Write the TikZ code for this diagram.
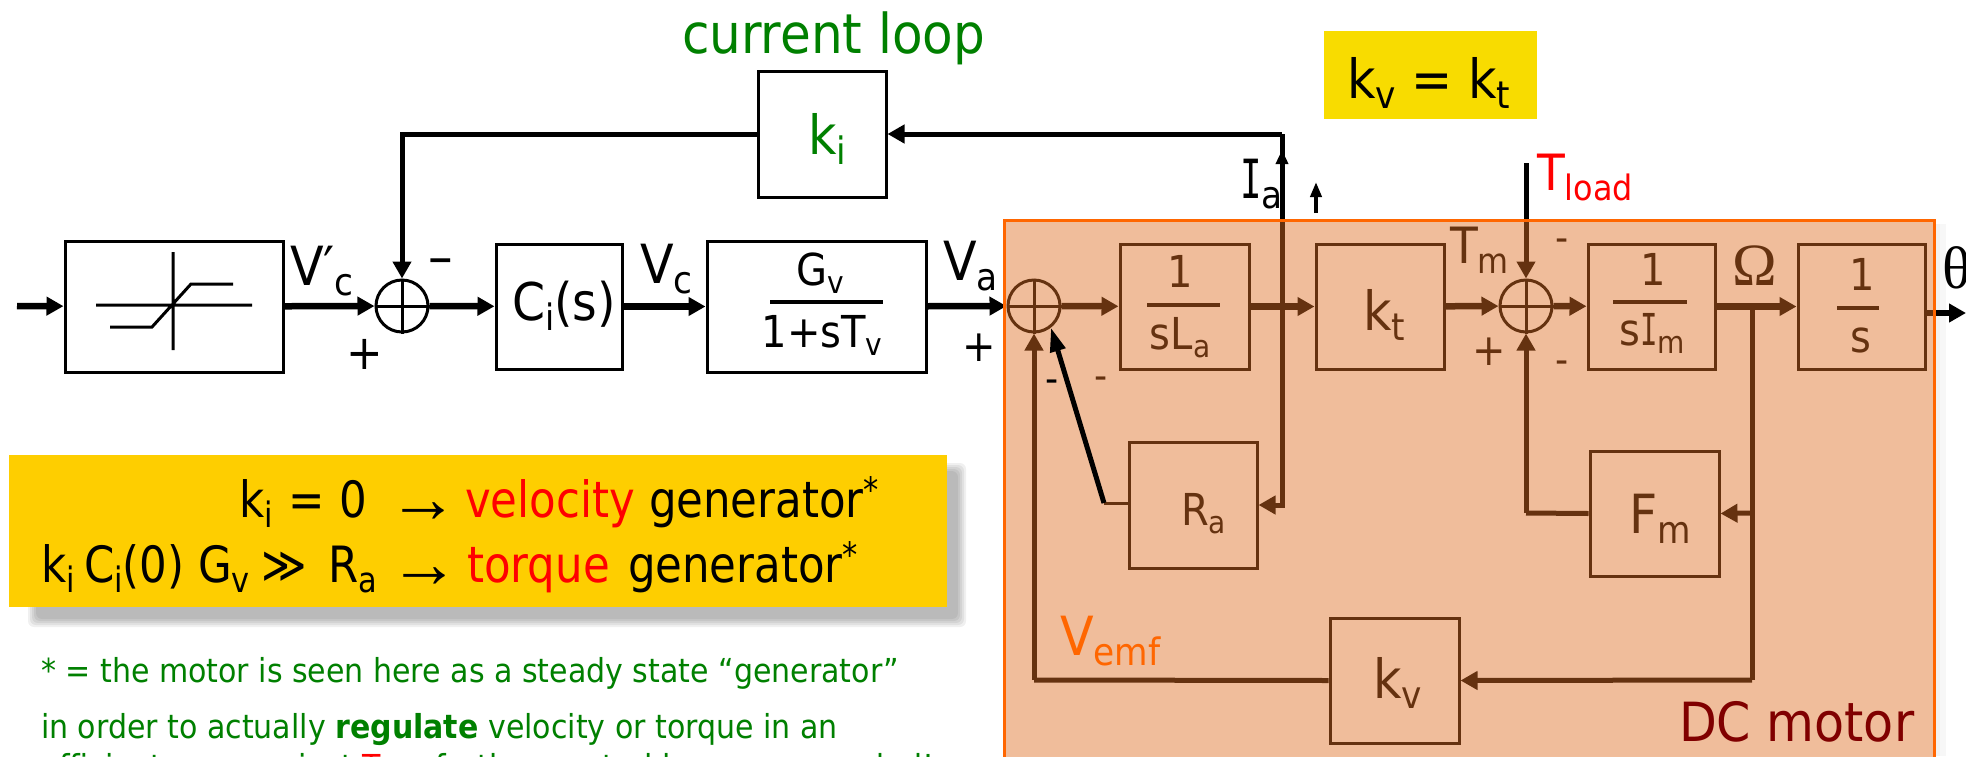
\documentclass[tikz,border=0pt]{standalone}
\usepackage{graphicx}
\usepackage{fontspec}
\setmainfont{DejaVu Sans}[FakeStretch=0.91]
\newfontfamily\notef{DejaVu Sans}[FakeStretch=0.87]
\newfontfamily\monof{DejaVu Sans Mono}[FakeStretch=0.66]
\newfontfamily\symf{Liberation Serif}
\usetikzlibrary{arrows.meta}
\definecolor{panelc}{HTML}{E07025}
\definecolor{panelb}{HTML}{FF6600}
\definecolor{kvbg}{HTML}{F8DC00}
\definecolor{notebg}{HTML}{FECE00}
\definecolor{grn}{HTML}{008000}
\definecolor{dkred}{HTML}{800000}
\newcommand\sbs[1]{\raisebox{-.2em}{\scalebox{.7}{#1}}}
\newcommand\capI{{\monof I}}
\newcommand\sizeL{\fontsize{54}{60}\selectfont}
\newcommand\sizeM{\fontsize{44}{50}\selectfont}
\newcommand\sizeN{\fontsize{50}{56}\selectfont\notef}
\newcommand\starm{\raisebox{.3em}{\scalebox{.7}{*}}}
\tikzset{
  blockbox/.style={draw=black,line width=3pt,inner sep=0pt,rectangle},
  sumnode/.style={draw=black,circle,line width=3pt,minimum size=52pt,inner sep=0pt},
  sig/.style={draw=black,line width=5pt,-{Triangle[length=17pt,width=18pt]}},
  fwd/.style={sig,line width=6.5pt},
  plain/.style={draw=black,line width=5pt},
  barline/.style={draw=black,line width=3.5pt},
  txt/.style={anchor=base west,inner sep=0pt,outer sep=0pt,font=\sizeL},
  ctr/.style={anchor=base,inner sep=0pt,outer sep=0pt,font=\sizeL},
  ctrm/.style={anchor=base,inner sep=0pt,outer sep=0pt,font=\sizeM},
  mid/.style={anchor=center,inner sep=0pt,outer sep=0pt,font=\sizeL},
  minus/.style={anchor=center,inner sep=0pt,outer sep=0pt,font=\fontsize{40}{40}\selectfont},
  ntxt/.style={anchor=base west,inner sep=0pt,outer sep=0pt,font=\sizeN},
  narrow/.style={anchor=base west,inner sep=0pt,outer sep=0pt,font=\fontsize{70}{70}\selectfont\symf},
  note/.style={anchor=base west,inner sep=0pt,outer sep=0pt,font=\fontsize{33}{40}\selectfont,text=grn},
  hairl/.style={draw=black,line width=3pt},
}
\newcommand\blk[5]{\node[blockbox,minimum width=#4pt-#2pt,minimum height=#5pt-#3pt] (#1) at ({(#2+#4)/2},{(#3+#5)/2}) {};}
\begin{document}
\begin{tikzpicture}[x=1pt,y=-1pt]
\useasboundingbox (0,0) rectangle (1966,756);
\clip (0,0) rectangle (1966,756);
\fill[white] (0,0) rectangle (1966,756);

% note box with soft shadow
\foreach \g in {0,2,4,6,8}{
  \fill[black,opacity=.06,rounded corners=6pt] (36-\g,471-\g) rectangle (958+\g,619+\g);
}
\node[fill=notebg,minimum width=938pt,minimum height=152pt,inner sep=0pt] (notebox) at (478,531) {};

% boxes
\blk{sat}{65}{241}{283}{372}
\blk{ci}{496}{244}{622}{369}
\blk{gv}{707}{241}{926}{372}
\blk{ki}{758}{71}{886}{197}
\blk{la}{1120}{244}{1249}{369}
\blk{kt}{1316}{244}{1444}{369}
\blk{im}{1588}{244}{1715}{369}
\blk{sb}{1798}{244}{1925}{369}
\blk{ra}{1129}{442}{1257}{568}
\blk{fm}{1590}{451}{1719}{576}
\blk{kv}{1330}{618}{1459}{743}
\node[sumnode] (s1) at (402,306) {};
\node[sumnode] (s2) at (1034,306) {};
\node[sumnode] (s3) at (1526,306) {};
\foreach \s in {s1,s2,s3}{
  \draw[hairl] (\s.north)--(\s.south) (\s.west)--(\s.east);
}

% saturation symbol
\coordinate (va) at (173,252); \coordinate (vb) at (173,350);
\coordinate (ha) at (96,305); \coordinate (hb) at (252,305);
\coordinate (c1) at (110,327); \coordinate (c2) at (152,327);
\coordinate (c3) at (191,284); \coordinate (c4) at (233,284);
\draw[hairl] (va)--(vb) (ha)--(hb) (c1)--(c2)--(c3)--(c4);

% free ends
\coordinate (inp) at (17,306);
\coordinate (ia) at (1282,134);
\coordinate (iaa) at (1282,175);
\coordinate (iab) at (1282,150);
\coordinate (upa) at (1316,213);
\coordinate (upb) at (1316,182);
\coordinate (tl) at (1526,163);
\coordinate (om) at (1752,306);
\coordinate (fmj) at (1752,513);
\coordinate (kvj) at (1752,680);
\coordinate (out) at (1966,313);
\coordinate (sbo) at (1925,313);
\coordinate (fml) at (1526,513);
\coordinate (kvl) at (1034,680);
\coordinate (rac) at (1104,503);

% connectors
\draw[fwd] (inp) -- (sat);
\draw[fwd] (sat) -- (s1);
\draw[fwd] (s1) -- (ci);
\draw[fwd] (ci) -- (gv);
\draw[fwd] (gv) -- (s2);
\draw[fwd] (s2) -- (la);
\draw[fwd] (la) -- (kt);
\draw[fwd] (kt) -- (s3);
\draw[fwd] (s3) -- (im);
\draw[fwd] (im) -- (sb);
\draw[fwd] (sbo) -- (out);
\draw[sig] (ki.west) -| (s1.north);
\draw[sig] (ia) -- (ki.east);
\draw[draw=black,line width=5pt,-{Triangle[length=14pt,width=12pt]}] (iaa) -- (iab);
\draw[plain] (ia) -- (iaa);
\draw[draw=black,line width=4pt,-{Triangle[length=15pt,width=11pt]}] (upa) -- (upb);
\draw[sig] (iaa) |- (ra.east);
\draw[sig] (tl) -- (s3.north);
\draw[plain] (om) -- (kvj);
\draw[sig] (fmj) -- (fm.east);
\draw[sig] (kvj) -- (kv.east);
\draw[plain] (fm.west) -- (fml);
\draw[sig] (fml) -- (s3.south);
\draw[plain] (kv.west) -- (kvl);
\draw[sig] (kvl) -- (s2.south);
\draw[hairl] (ra.west |- rac) -- (rac);

% labels under the panel tint
\node[txt] (lVa) at (943,280) {V\sbs{a}};
\node[anchor=center,inner sep=0pt,font=\sizeM] (lplus4) at (1489,352) {+};
\node[minus] (lm2) at (1562,245) {-};
\node[minus] (lm3) at (1562,367) {-};
\node[minus] (lm4) at (1101,383) {-};
\node[txt,font=\fontsize{50}{56}\selectfont] (lTm) at (1450,263) {T\sbs{m}};
\node[ctr,font=\fontsize{60}{60}\selectfont\symf] (lOm) at (1755,285) {Ω};
\node[ctrm] (t1a) at (1180,287) {1};
\draw[barline] (1147,305) coordinate (laa) -- (1220,305) coordinate (lab);
\node[ctrm] (tla) at (1180,349) {sL\sbs{a}};
\node[ctr] (tkt) at (1384,330) {k\sbs{t}};
\node[ctrm] (t1b) at (1653,285) {1};
\draw[barline] (1613,302) coordinate (ima) -- (1687,302) coordinate (imb);
\node[ctrm] (tim) at (1652,345) {s\capI\sbs{m}};
\node[ctrm] (t1c) at (1862,290) {1};
\draw[barline] (1837,308) coordinate (sba) -- (1879,308) coordinate (sbb);
\node[ctrm] (ts) at (1861,352) {s};
\node[txt,font=\sizeM] (tra) at (1181,525) {R\sbs{a}};
\node[txt] (tfm) at (1629,533) {F\sbs{m}};
\node[txt] (tkv) at (1373,698) {k\sbs{v}};

% tinted panel
\fill[black,opacity=.05] (1934,224) rectangle (1940,756);
\fill[black,opacity=.03] (1940,224) rectangle (1946,756);
\fill[panelc,fill opacity=.455] (1004,220) rectangle (1934,790);
\node[draw=panelb,line width=3pt,minimum width=930pt,minimum height=570pt,inner sep=0pt] (panel) at (1469,505) {};

% labels and lines over the panel
\draw[draw=black,line width=5pt,-{Triangle[length=24pt,width=15pt]}] (rac) -- (s2.-52);
\node[minus] (lm5) at (1052,386) {-};

\node[txt,text=grn,font=\fontsize{55}{60}\selectfont] (tcl) at (682,53) {current loop};
\node[txt,text=grn] (tki) at (808,154) {k\sbs{i}};
\node[fill=kvbg,minimum width=213pt,minimum height=88pt,inner sep=0pt] (kvbox) at (1430.5,75) {};
\node[txt] (tkk) at (1347,98) {k\sbs{v} = k\sbs{t}};
\node[txt] (lI) at (1240,198) {\capI\sbs{a}};
\node[txt,text=red,font=\fontsize{50}{56}\selectfont] (lTl) at (1537,190) {T\sbs{load}};
\node[txt] (lVp) at (290,285) {V′\sbs{c}};
\node[mid] (lm1) at (441,267) {–};
\node[mid,font=\fontsize{48}{50}\selectfont] (lp1) at (365,354) {+};
\node[mid,font=\sizeM] (lp2) at (979,348) {+};
\node[txt] (lVc) at (640,283) {V\sbs{c}};
\node[ctrm] (tgv) at (820,285) {G\sbs{v}};
\draw[barline] (770,302) coordinate (gva) -- (883,302) coordinate (gvb);
\node[ctrm] (tgd) at (822,347) {1+sT\sbs{v}};
\node[txt,font=\fontsize{52}{56}\selectfont] (tci) at (512,320) {C\sbs{i}(s)};
\node[txt,font=\fontsize{60}{60}\selectfont\symf] (lth) at (1942,288) {θ};
\node[txt,text=panelb] (lVe) at (1060,655) {V\sbs{emf}};
\node[txt,text=dkred] (tdc) at (1679,741) {DC motor};

% note text
\node[ntxt] (n1a) at (239,517) {k\sbs{i}};
\node[ntxt] (n1b) at (288,517) {=};
\node[ntxt] (n1c) at (339,517) {0};
\node[narrow] (n1d) at (388,522) {→};
\node[ntxt,text=red] (n1e) at (465,517) {velocity};
\node[ntxt] (n1f) at (649,517) {generator\starm};
\node[ntxt] (n2a) at (41,582) {k\sbs{i}};
\node[ntxt] (n2b) at (84,582) {C\sbs{i}(0)};
\node[ntxt] (n2c) at (198,582) {G\sbs{v}};
\node[ntxt] (n2d) at (261,582) {≫};
\node[ntxt] (n2e) at (328,582) {R\sbs{a}};
\node[narrow] (n2f) at (389,587) {→};
\node[ntxt,text=red] (n2g) at (467,582) {torque};
\node[ntxt] (n2h) at (628,582) {generator\starm};
\node[note] (g1) at (41,682) {* = the motor is seen here as a steady state “generator”};
\node[note] (g2) at (41,738) {in order to actually \textbf{regulate} velocity or torque in an};
\node[note] (g3) at (41,778) {efficient way against \textcolor{red}{T\sbs{load}} further control loops are needed!};
\end{tikzpicture}
\end{document}
